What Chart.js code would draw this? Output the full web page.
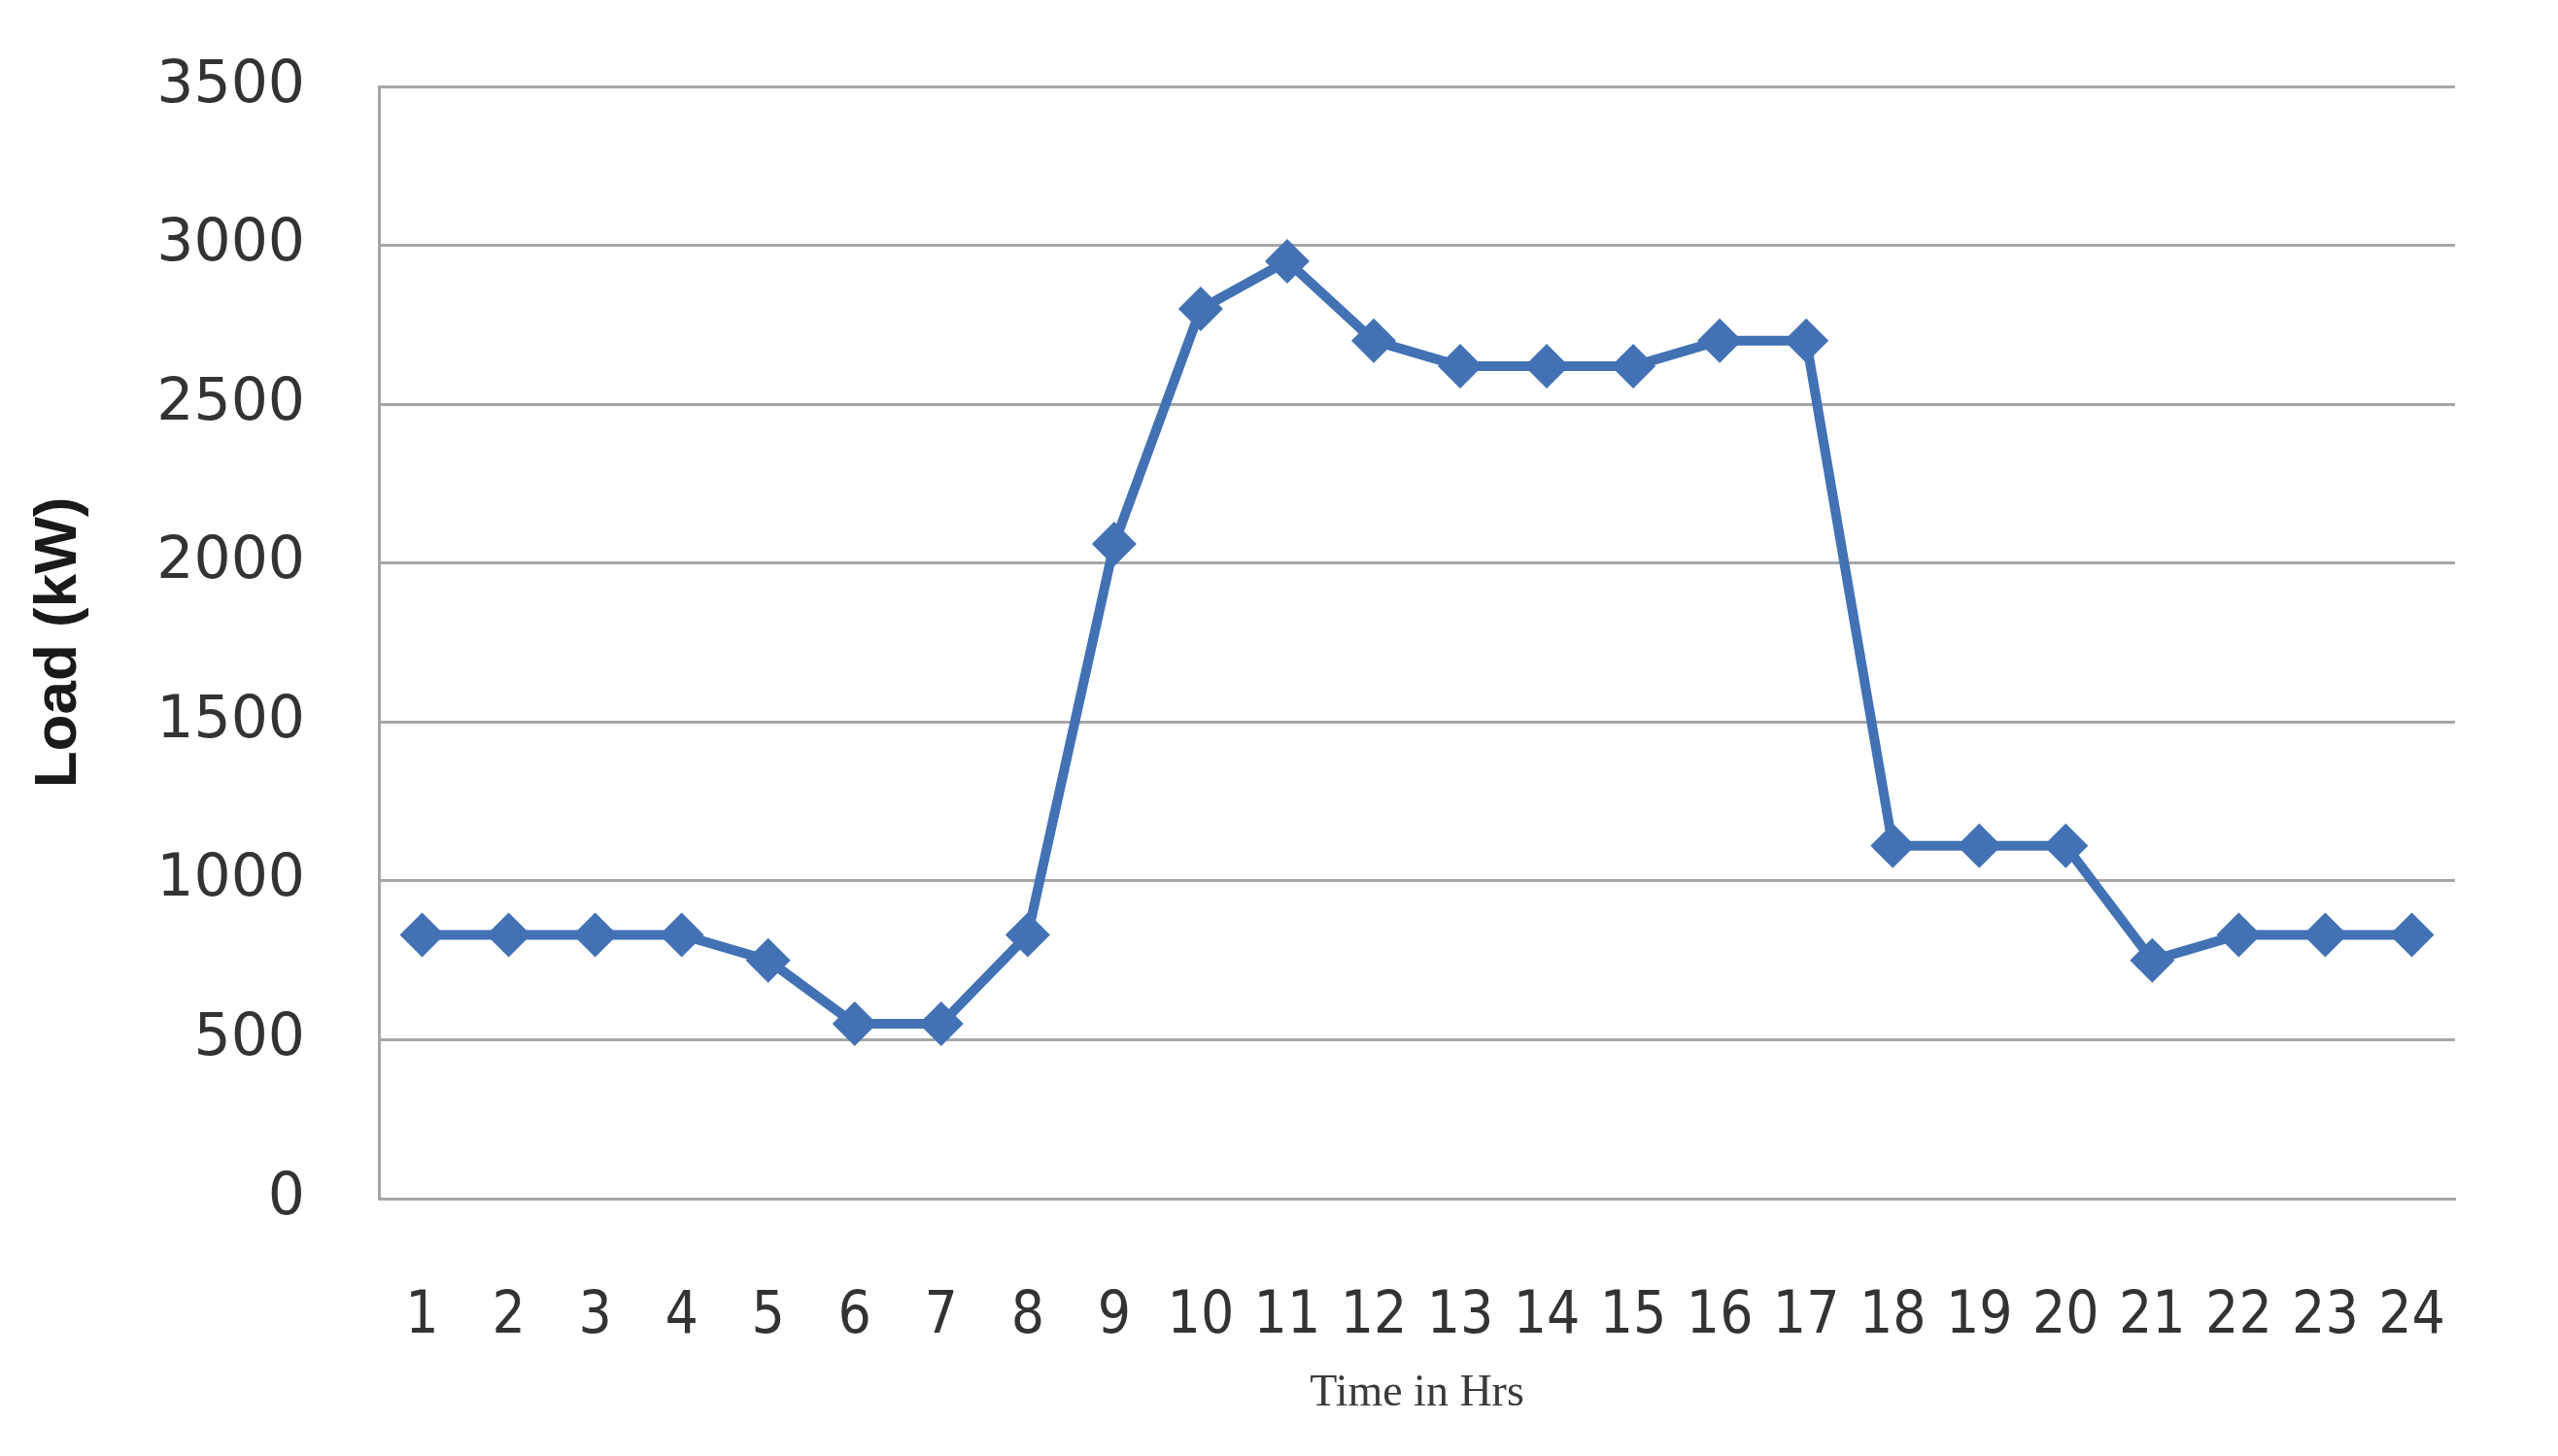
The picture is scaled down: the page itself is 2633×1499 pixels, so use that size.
<!DOCTYPE html>
<html>
<head>
<meta charset="utf-8">
<script src="https://cdn.jsdelivr.net/npm/chart.js@4.4.1/dist/chart.umd.min.js"></script>
<style>
  html, body { margin: 0; padding: 0; background: #fff; }
  #wrap { width: 2633px; height: 1499px; }
</style>
</head>
<body>
<div id="wrap"><canvas id="load-chart"></canvas></div>
<script>
const hours = ['1','2','3','4','5','6','7','8','9','10','11','12',
               '13','14','15','16','17','18','19','20','21','22','23','24'];
const loadKw = [830, 830, 830, 830, 750, 550, 550, 830, 2060, 2800, 2950, 2700,
                2620, 2620, 2620, 2700, 2700, 1110, 1110, 1110, 750, 830, 830, 830];
const yTicks = [0, 500, 1000, 1500, 2000, 2500, 3000, 3500];

const lineBlue = '#4272b4';
const gridGray = '#a6a6a6';
const ctx = document.getElementById('load-chart');

new Chart(ctx, {
  type: 'line',
  data: {
    labels: hours,
    datasets: [{
      label: 'Load',
      data: loadKw,
      borderColor: lineBlue,
      backgroundColor: lineBlue,
      borderWidth: 10,
      pointStyle: 'rectRot',
      pointRadius: 23,
      pointBorderWidth: 0,
      fill: false,
      tension: 0
    }]
  },
  options: {
    responsive: true,
    maintainAspectRatio: false,
    animation: false,
    layout: { padding: { top: 89, right: 106, left: 0, bottom: 0 } },
    plugins: {
      legend: { display: false },
      tooltip: { enabled: false }
    },
    scales: {
      x: {
        offset: true,
        grid: { display: false, drawTicks: false },
        border: { display: true, color: gridGray, width: 3 },
        ticks: {
          padding: 86,
          color: '#333333',
          font: { family: 'DejaVu Sans Condensed, DejaVu Sans', size: 60 }
        },
        title: {
          display: true,
          text: 'Time in Hrs',
          color: '#3a3a3a',
          font: { family: 'Liberation Serif', size: 46 },
          padding: { top: 0, bottom: 36 }
        },
        afterFit: (scale) => { scale.height = 265; }
      },
      y: {
        min: 0,
        max: 3500,
        afterBuildTicks: (scale) => { scale.ticks = yTicks.map(v => ({ value: v })); },
        grid: { color: gridGray, lineWidth: 3, drawTicks: false },
        border: { display: true, color: gridGray, width: 3 },
        ticks: {
          padding: 76,
          color: '#333333',
          font: { family: 'DejaVu Sans', size: 60 },
          callback: (v) => String(v)
        },
        title: {
          display: true,
          text: 'Load (kW)',
          color: '#1a1a1a',
          font: { family: 'Liberation Sans', size: 62, weight: 'bold' },
          padding: { top: 24, bottom: 0 }
        },
        afterFit: (scale) => {
          scale.width = 390;
          scale.paddingTop = 0;
          scale.paddingBottom = 0;
        }
      }
    }
  }
});
</script>
</body>
</html>
